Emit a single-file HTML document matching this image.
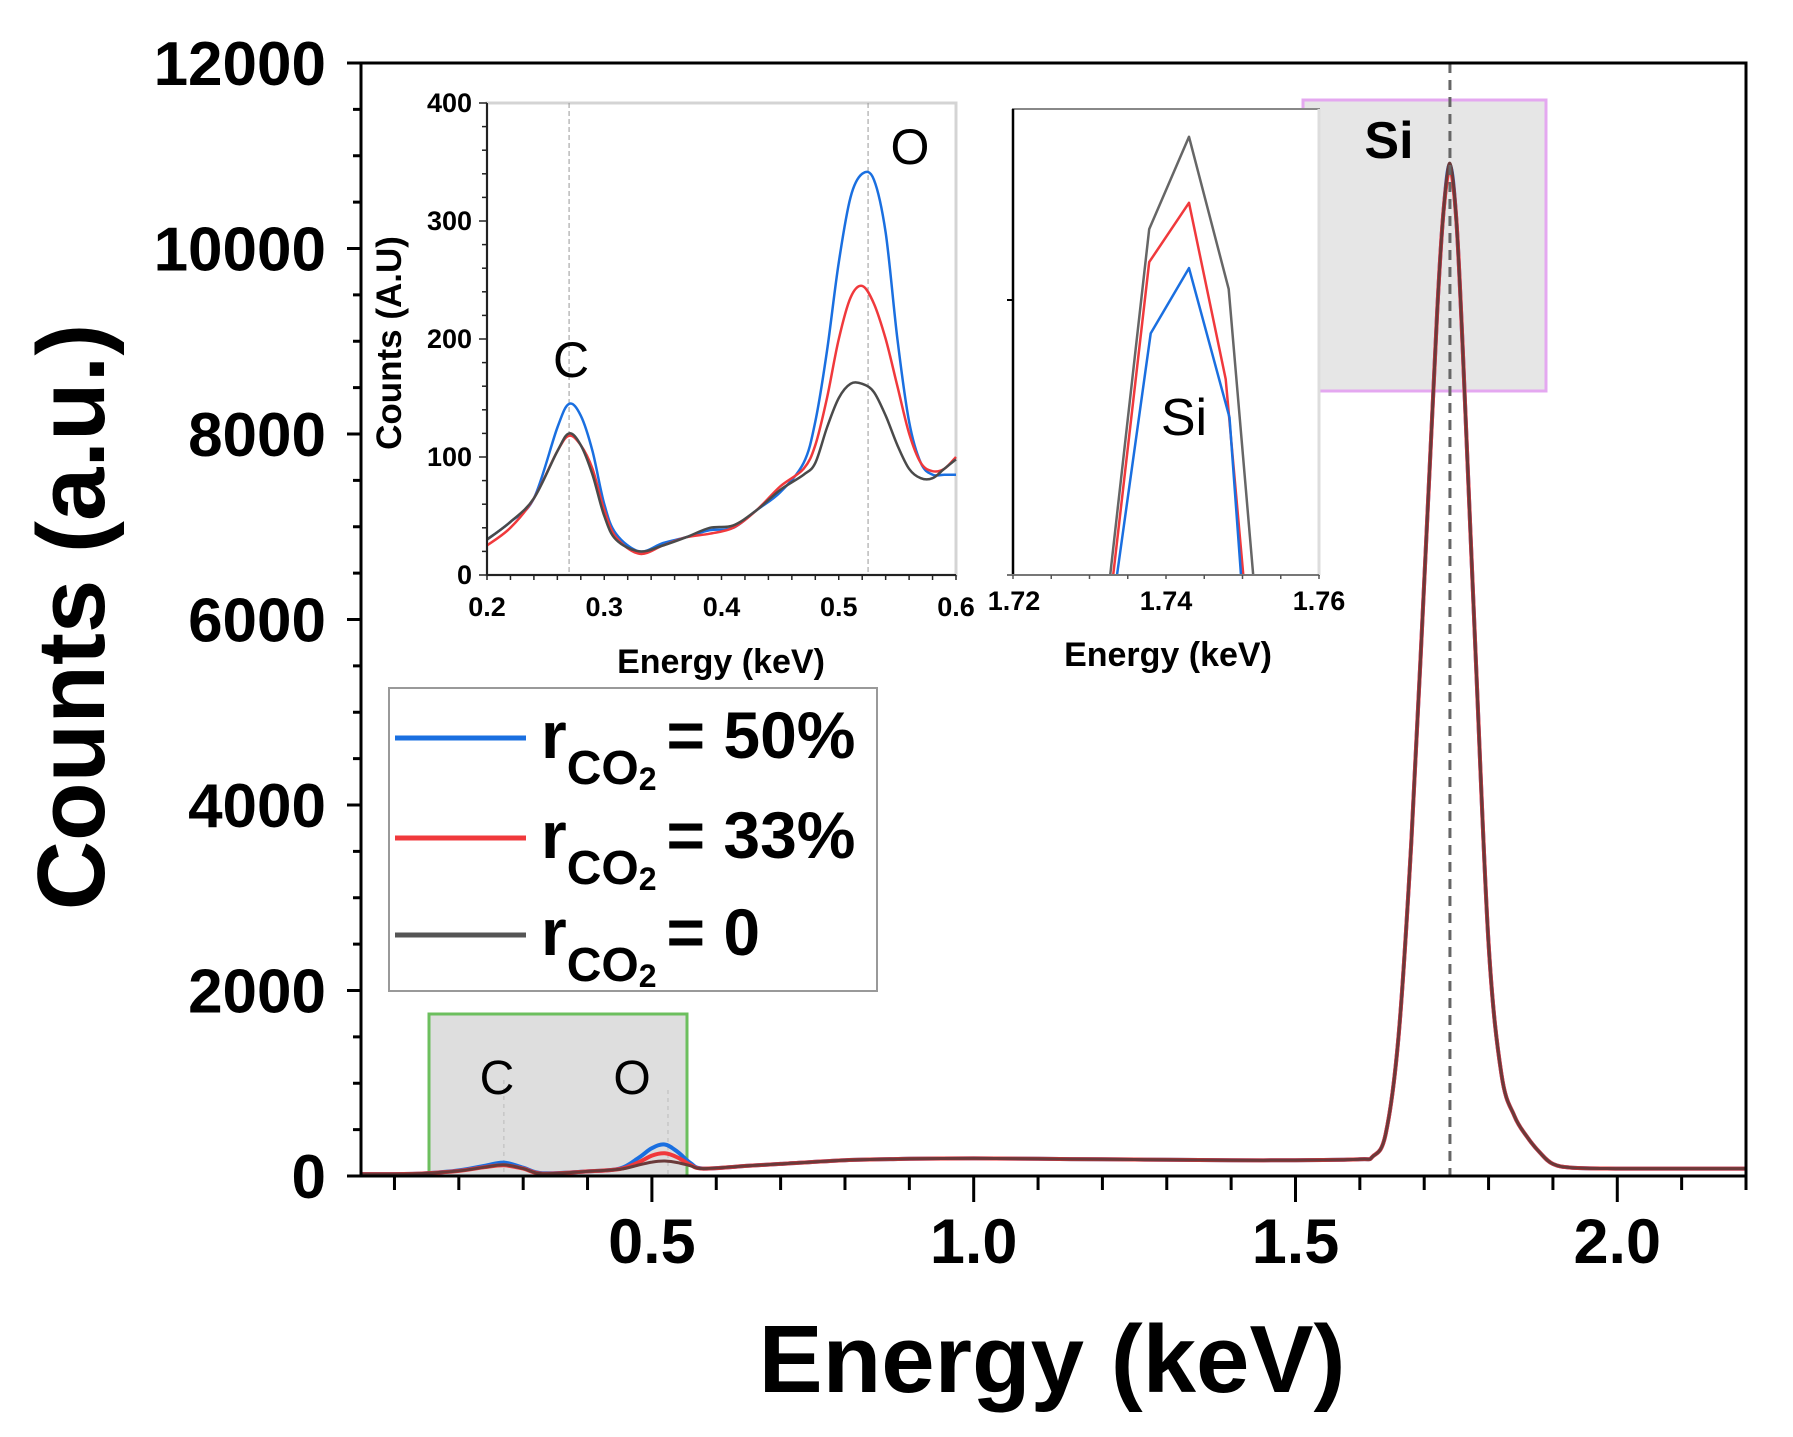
<!DOCTYPE html>
<html><head><meta charset="utf-8"><style>
body{margin:0;background:#fff;}
svg{display:block;font-family:"Liberation Sans",sans-serif;}
</style></head><body>
<svg id="chart" width="1793" height="1437" viewBox="0 0 1793 1437">
<g id="bg"></g><g id="main"></g><g id="in1"></g><g id="in2"></g><g id="fg"></g>
</svg>
<script>
// ---------- main spectrum data ----------
const mainEnergy = [0.05,0.1,0.15,0.2,0.24,0.27,0.3,0.33,0.4,0.45,0.48,0.5,0.52,0.54,0.56,0.58,0.65,0.7,0.8,0.9,1.0,1.1,1.2,1.3,1.4,1.5,1.6,1.62,1.64,1.66,1.68,1.70,1.72,1.73,1.74,1.75,1.76,1.78,1.80,1.82,1.84,1.86,1.88,1.90,1.93,2.0,2.1,2.2];
const mainBlue = [20,20,30,60,110,145,90,30,50,80,200,300,340,260,140,80,110,130,170,185,190,185,180,175,170,170,180,210,450,1500,3600,6400,9300,10400,10900,10300,8900,5600,2500,1100,650,420,250,130,90,80,80,80];
const mainRed  = [20,20,30,55,95,115,80,25,50,75,150,220,245,200,120,80,110,130,170,185,190,185,180,175,170,170,180,210,450,1500,3600,6400,9300,10400,10850,10300,8900,5600,2500,1100,650,420,250,130,90,80,80,80];
const mainGrey = [20,20,30,55,95,120,80,25,50,72,120,150,162,145,110,80,110,130,170,185,190,185,180,175,170,170,180,210,450,1500,3600,6400,9300,10400,10920,10300,8900,5600,2500,1100,650,420,250,130,90,80,80,80];
const mainYTicks = [0,2000,4000,6000,8000,10000,12000];
const mainXTicks = [0.5,1.0,1.5,2.0];
const mainXTickLabels = ["0.5","1.0","1.5","2.0"];
// ---------- inset 1 (C/O) ----------
const in1Energy = [0.2,0.22,0.24,0.26,0.27,0.28,0.29,0.30,0.31,0.33,0.35,0.37,0.39,0.41,0.43,0.45,0.47,0.48,0.49,0.50,0.51,0.52,0.53,0.54,0.55,0.56,0.57,0.58,0.59,0.6];
const in1Blue = [30,45,65,125,145,135,105,60,35,20,27,32,38,40,55,70,95,130,190,265,320,340,335,290,200,130,95,85,85,85];
const in1Red  = [25,40,65,105,118,110,90,55,32,18,25,32,35,40,55,75,90,110,150,200,235,245,230,200,160,120,95,88,90,100];
const in1Grey = [30,45,65,105,120,110,85,50,30,20,25,32,40,42,55,72,85,95,125,150,162,162,155,135,110,90,82,82,90,98];
const in1YTicks = [0,100,200,300,400];
const in1XTicks = [0.2,0.3,0.4,0.5,0.6];
const in1XTickLabels = ["0.2","0.3","0.4","0.5","0.6"];
// ---------- inset 2 (Si zoom) ----------
const in2GreyE = [1.7327,1.7378,1.743,1.7482,1.7514];
const in2Grey  = [10479,10940,11063,10860,10479];
const in2RedE  = [1.7331,1.7378,1.743,1.7478,1.7501];
const in2Red   = [10479,10896,10975,10740,10479];
const in2BlueE = [1.7336,1.7380,1.743,1.7483,1.7498];
const in2Blue  = [10479,10801,10888,10689,10479];
const in2XTicks = [1.72,1.74,1.76];
const in2XTickLabels = ["1.72","1.74","1.76"];

const NS="http://www.w3.org/2000/svg";
function mk(parent,tag,attrs,text){const e=document.createElementNS(NS,tag);for(const k in attrs)e.setAttribute(k,attrs[k]);if(text!==undefined)e.textContent=text;parent.appendChild(e);return e;}
const BLUE="#1a6fe0",RED="#f0393c",GREY="#4a4a4a";

// smooth path (Catmull-Rom)
function smoothPath(pts){
  let d='M'+pts[0][0].toFixed(1)+','+pts[0][1].toFixed(1);
  for(let i=0;i<pts.length-1;i++){
    const p0=pts[Math.max(0,i-1)],p1=pts[i],p2=pts[i+1],p3=pts[Math.min(pts.length-1,i+2)];
    const c1=[p1[0]+(p2[0]-p0[0])/6,p1[1]+(p2[1]-p0[1])/6];
    const c2=[p2[0]-(p3[0]-p1[0])/6,p2[1]-(p3[1]-p1[1])/6];
    d+='C'+c1[0].toFixed(1)+','+c1[1].toFixed(1)+' '+c2[0].toFixed(1)+','+c2[1].toFixed(1)+' '+p2[0].toFixed(1)+','+p2[1].toFixed(1);
  }
  return d;
}

// main axes
const M={l:361,r:1746,t:63,b:1176,x0:0.048,x1:2.2,y0:0,y1:12000};
const mx=e=>M.l+(e-M.x0)/(M.x1-M.x0)*(M.r-M.l);
const my=c=>M.b-(c-M.y0)/(M.y1-M.y0)*(M.b-M.t);
const bg=document.getElementById('bg'),main=document.getElementById('main'),fg=document.getElementById('fg');

let r=mk(bg,'rect',{x:429,y:1014,width:258,height:162,fill:'#dedede',stroke:'#6cbf5e','stroke-width':3});

r=mk(bg,'rect',{x:1303,y:100,width:243,height:291,fill:'#e3e3e3','fill-opacity':0.9,stroke:'#e4a8f0','stroke-width':3});

mk(bg,'line',{x1:mx(0.27),x2:mx(0.27),y1:1080,y2:1176,stroke:'#bbb','stroke-dasharray':'4 4'});
mk(bg,'line',{x1:mx(0.525),x2:mx(0.525),y1:1090,y2:1176,stroke:'#bbb','stroke-dasharray':'4 4'});

function series(g,E,V,fx,fy,col,w,name,smooth){
  const pts=E.map((e,i)=>[fx(e),fy(V[i])]);
  const p=smooth?smoothPath(pts):pts.map((q,i)=>(i?'L':'M')+q[0].toFixed(1)+','+q[1].toFixed(1)).join('');
  const el=mk(g,'path',{d:p,fill:'none',stroke:col,'stroke-width':w,'stroke-linejoin':'round'});
  
  
  return el;
}
series(main,mainEnergy,mainBlue,mx,my,BLUE,4,'series-50-percent',true);
series(main,mainEnergy,mainRed,mx,my,RED,4,'series-33-percent',true);
series(main,mainEnergy,mainGrey,mx,my,'#6a3a3a',3,'series-0-percent',true);
let dl=mk(main,'line',{x1:mx(1.74),x2:mx(1.74),y1:M.t,y2:M.b,stroke:'#666','stroke-width':3,'stroke-dasharray':'10 7'});


// main frame
let fr=mk(fg,'rect',{x:M.l,y:M.t,width:M.r-M.l,height:M.b-M.t,fill:'none',stroke:'#000','stroke-width':3});

for(let c=0;c<=12000;c+=500){const major=c%2000===0;mk(fg,'line',{x1:M.l-(major?14:8),x2:M.l,y1:my(c),y2:my(c),stroke:'#000','stroke-width':3});}
mainYTicks.forEach(c=>{const t=mk(fg,'text',{x:326,y:my(c)+22,'text-anchor':'end','font-size':62,'font-weight':'bold'},String(c));
});
for(let e=0.1;e<=2.2001;e+=0.1){const major=Math.abs(e*2-Math.round(e*2))<1e-6;mk(fg,'line',{x1:mx(e),x2:mx(e),y1:M.b,y2:M.b+(major?26:14),stroke:'#000','stroke-width':3});}
mainXTicks.forEach((e,i)=>{const t=mk(fg,'text',{x:mx(e),y:1263,'text-anchor':'middle','font-size':63,'font-weight':'bold'},mainXTickLabels[i]);
});
let t=mk(fg,'text',{x:0,y:0,transform:'translate(104,617) rotate(-90)','text-anchor':'middle','font-size':96,'font-weight':'bold'},'Counts (a.u.)');

t=mk(fg,'text',{x:1052,y:1392,'text-anchor':'middle','font-size':96,'font-weight':'bold'},'Energy (keV)');

t=mk(fg,'text',{x:497,y:1094,'text-anchor':'middle','font-size':48},'C');
t=mk(fg,'text',{x:632,y:1094,'text-anchor':'middle','font-size':48},'O');
t=mk(fg,'text',{x:1389,y:158,'text-anchor':'middle','font-size':52,'font-weight':'bold'},'Si');

// legend
const lg=mk(fg,'g',{});

mk(lg,'rect',{x:389,y:688,width:488,height:303,fill:'#fff',stroke:'#999','stroke-width':2});
const legCols=[BLUE,RED,'#555'],legVals=['= 50%','= 33%','= 0'],legY=[738,838,935];
legCols.forEach((c,i)=>{
  const g=mk(lg,'g',{});
  
  mk(g,'line',{x1:395,x2:526,y1:legY[i],y2:legY[i],stroke:c,'stroke-width':5});
  const tx=mk(g,'text',{x:541,y:legY[i]+20,'font-size':66,'font-weight':'bold'});
  mk(tx,'tspan',{},'r');
  mk(tx,'tspan',{dy:26,'font-size':48},'CO');
  mk(tx,'tspan',{dy:6,'font-size':32},'2');
  mk(tx,'tspan',{dy:-32,dx:10},legVals[i]);
});

// inset 1
const I={l:487,r:956,t:103,b:575,x0:0.2,x1:0.6,y0:0,y1:400};
const ix=e=>I.l+(e-I.x0)/(I.x1-I.x0)*(I.r-I.l);
const iy=c=>I.b-(c-I.y0)/(I.y1-I.y0)*(I.b-I.t);
const in1=document.getElementById('in1');

mk(in1,'rect',{x:I.l,y:I.t,width:I.r-I.l,height:I.b-I.t,fill:'#fff',stroke:'#d4d4d4','stroke-width':3});
mk(in1,'line',{x1:ix(0.27),x2:ix(0.27),y1:I.t,y2:I.b,stroke:'#999','stroke-dasharray':'5 3'});
mk(in1,'line',{x1:ix(0.525),x2:ix(0.525),y1:I.t,y2:I.b,stroke:'#999','stroke-dasharray':'5 3'});
series(in1,in1Energy,in1Blue,ix,iy,BLUE,2.5,'inset-co-50-percent',true);
series(in1,in1Energy,in1Red,ix,iy,RED,2.5,'inset-co-33-percent',true);
series(in1,in1Energy,in1Grey,ix,iy,GREY,2.5,'inset-co-0-percent',true);
mk(in1,'line',{x1:I.l,x2:I.l,y1:I.t,y2:I.b,stroke:'#222','stroke-width':2});
mk(in1,'line',{x1:I.l,x2:I.r,y1:I.b,y2:I.b,stroke:'#222','stroke-width':2});
for(let c=0;c<=400;c+=20){mk(in1,'line',{x1:I.l-(c%100===0?8:5),x2:I.l,y1:iy(c),y2:iy(c),stroke:'#222','stroke-width':1.5});}
for(let e=0.2;e<=0.6001;e+=0.02){mk(in1,'line',{x1:ix(e),x2:ix(e),y1:I.b,y2:I.b+5,stroke:'#222','stroke-width':1.5});}
in1YTicks.forEach(c=>{const t=mk(in1,'text',{x:472,y:iy(c)+9,'text-anchor':'end','font-size':27,'font-weight':'bold'},String(c));});
in1XTicks.forEach((e,i)=>{const t=mk(in1,'text',{x:ix(e),y:616,'text-anchor':'middle','font-size':27,'font-weight':'bold'},in1XTickLabels[i]);});
t=mk(in1,'text',{x:0,y:0,transform:'translate(401,343) rotate(-90)','text-anchor':'middle','font-size':35,'font-weight':'bold'},'Counts (A.U)');
t=mk(in1,'text',{x:721,y:673,'text-anchor':'middle','font-size':34,'font-weight':'bold'},'Energy (keV)');
t=mk(in1,'text',{x:571,y:377,'text-anchor':'middle','font-size':50},'C');
t=mk(in1,'text',{x:910,y:164,'text-anchor':'middle','font-size':50},'O');

// inset 2
const J={l:1013,r:1319,t:109,b:575,x0:1.72,x1:1.76,y0:10479,y1:11100};
const jx=e=>J.l+(e-J.x0)/(J.x1-J.x0)*(J.r-J.l);
const jy=c=>J.b-(c-J.y0)/(J.y1-J.y0)*(J.b-J.t);
const in2=document.getElementById('in2');

mk(in2,'rect',{x:J.l,y:J.t,width:J.r-J.l,height:J.b-J.t,fill:'#fff',stroke:'#888','stroke-width':2});
mk(in2,'line',{x1:J.r,x2:J.r,y1:J.t,y2:J.b,stroke:'#ddd','stroke-width':3});
series(in2,in2GreyE,in2Grey,jx,jy,'#666',2.5,'inset-si-0-percent');
series(in2,in2RedE,in2Red,jx,jy,RED,2.5,'inset-si-33-percent');
series(in2,in2BlueE,in2Blue,jx,jy,BLUE,2.5,'inset-si-50-percent');
mk(in2,'line',{x1:J.l,x2:J.l,y1:J.t,y2:J.b,stroke:'#000','stroke-width':2.5});
mk(in2,'line',{x1:J.l-6,x2:J.l,y1:300,y2:300,stroke:'#000','stroke-width':2});
mk(in2,'line',{x1:J.l-6,x2:J.r,y1:J.b,y2:J.b,stroke:'#777','stroke-width':2});
for(let e=1.72;e<=1.7601;e+=0.005){mk(in2,'line',{x1:jx(e),x2:jx(e),y1:J.b,y2:J.b+4,stroke:'#555','stroke-width':1.5});}
in2XTicks.forEach((e,i)=>{const t=mk(in2,'text',{x:jx(e)+(i===0?1:0),y:610,'text-anchor':'middle','font-size':27,'font-weight':'bold'},in2XTickLabels[i]);});
t=mk(in2,'text',{x:1168,y:666,'text-anchor':'middle','font-size':34,'font-weight':'bold'},'Energy (keV)');
t=mk(in2,'text',{x:1184,y:435,'text-anchor':'middle','font-size':52},'Si');
</script>
</body></html>
